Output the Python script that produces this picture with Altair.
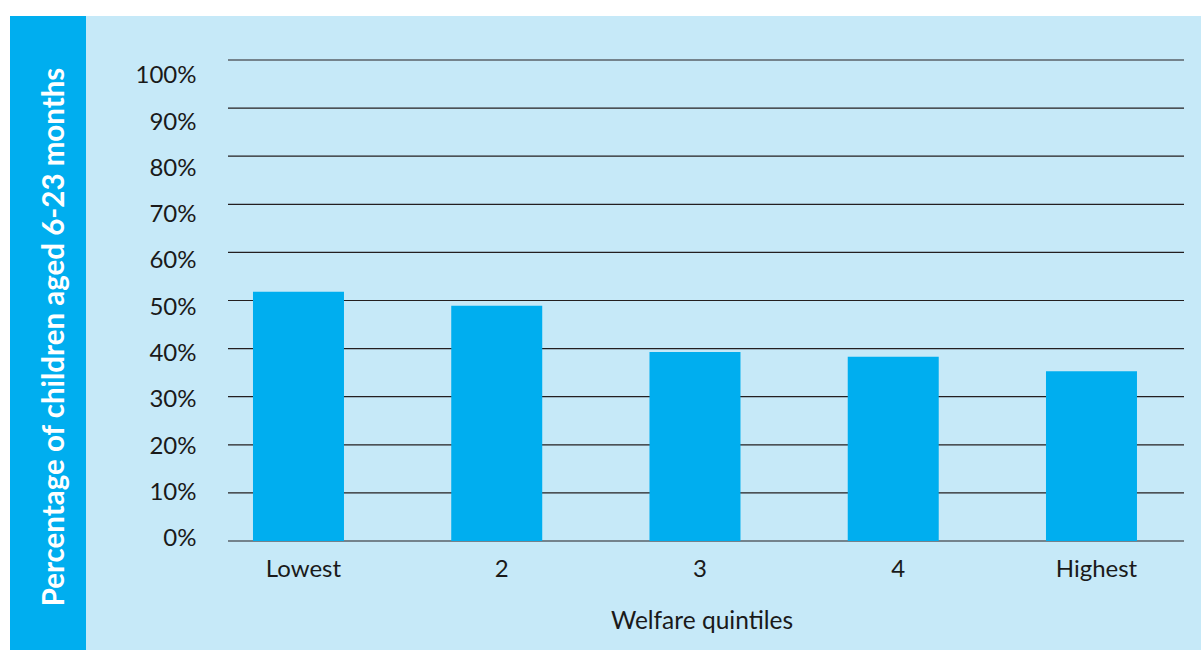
import altair as alt
import pandas as pd

categories = ["Lowest", "2", "3", "4", "Highest"]
values = [51.8, 48.9, 39.3, 38.3, 35.3]
y_ticks = [0, 10, 20, 30, 40, 50, 60, 70, 80, 90, 100]

FONT = "Lato"
TEXT = "#1a1a1a"
LIGHT = "#C6E9F8"
BLUE = "#00AEEF"

bars_df = pd.DataFrame({"quintile": categories, "pct": values})
grid_df = pd.DataFrame({"pct": y_ticks})
one = pd.DataFrame({"a": [0]})

W, H = 956, 481
L, T, R, B = 228, 60, 17, 109

yscale = alt.Scale(domain=[0, 100], nice=False)

yaxis = alt.Axis(
    title="Percentage of children aged 6-23 months",
    values=y_ticks,
    labelExpr="datum.value + '%'",
    labelFont=FONT,
    labelFontSize=24,
    labelColor=TEXT,
    labelBaseline="alphabetic",
    labelPadding=32,
    labelOffset=alt.ExprRef("4.7 + 0.18 * datum.value"),
    ticks=False,
    domain=False,
    grid=False,
    titleFont=FONT,
    titleFontSize=29.5,
    titleFontWeight="bold",
    titleColor="white",
    titleAngle=270,
    titleBaseline="alphabetic",
    titleAlign="center",
    titleX=-164.5,
    titleY=276.5,
    zindex=1,
)

white_left = alt.Chart(one).mark_rect(color="white").encode(
    x=alt.value(-L), x2=alt.value(-L + 10), y=alt.value(-T), y2=alt.value(H + B)
)
white_top = alt.Chart(one).mark_rect(color="white").encode(
    x=alt.value(-L), x2=alt.value(W + R), y=alt.value(-T), y2=alt.value(-T + 16)
)
strip = alt.Chart(one).mark_rect(color=BLUE).encode(
    x=alt.value(-L + 10), x2=alt.value(-L + 86), y=alt.value(-T + 16), y2=alt.value(H + B)
)

grid = alt.Chart(grid_df).mark_rule(color="#231F20", strokeWidth=1.2).encode(
    y=alt.Y("pct:Q", scale=yscale, axis=yaxis)
)

bars = alt.Chart(bars_df).mark_bar(color=BLUE).encode(
    x=alt.X(
        "quintile:N",
        sort=categories,
        scale=alt.Scale(paddingInner=0.541, paddingOuter=0.1816, align=0.347),
        axis=alt.Axis(
            title="Welfare quintiles",
            labelAngle=0,
            labelFont=FONT,
            labelFontSize=24,
            labelColor=TEXT,
            labelBaseline="alphabetic",
            labelPadding=35.7,
            labelOffset=5,
            ticks=False,
            domain=False,
            titleFont=FONT,
            titleFontSize=24.5,
            titleFontWeight="normal",
            titleColor=TEXT,
            titleBaseline="alphabetic",
            titleX=473.5,
            titleY=87,
            titleAlign="center",
            zindex=1,
        ),
    ),
    y=alt.Y("pct:Q", scale=yscale, axis=yaxis),
)

chart = alt.layer(white_left, white_top, strip, grid, bars).properties(
    width=W,
    height=H,
    padding={"left": L, "top": T, "right": R, "bottom": B},
    autosize=alt.AutoSizeParams(type="none"),
    background=LIGHT,
).configure_view(stroke=None)

chart.save("out.html", embed_options={"renderer": "svg", "actions": False})
